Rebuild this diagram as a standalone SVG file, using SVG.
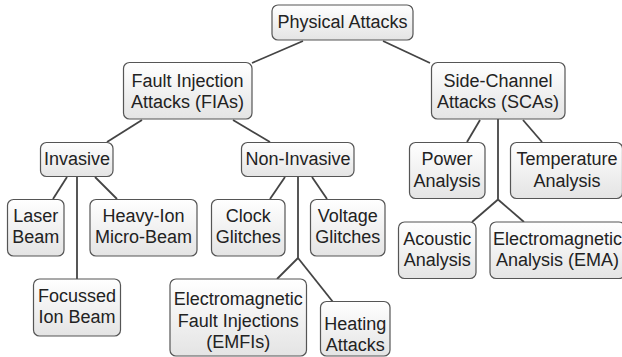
<svg xmlns="http://www.w3.org/2000/svg" width="622" height="357" viewBox="0 0 622 357">
<defs>
<linearGradient id="g" x1="0" y1="0" x2="0" y2="1">
<stop offset="0" stop-color="#ffffff"/>
<stop offset="1" stop-color="#e4e4e4"/>
</linearGradient>
<style>
.n rect{fill:url(#g);stroke:#555;stroke-width:1.2}
.n text{font-family:"Liberation Sans",Arial,sans-serif;font-size:18px;fill:#222;text-anchor:middle}
#edges line{stroke:#444;stroke-width:1.8;stroke-linecap:butt}
</style>
</defs>
<rect width="622" height="357" fill="#ffffff"/>
<g id="edges">
<line x1="303" y1="41" x2="252" y2="63"/>
<line x1="383" y1="41" x2="430" y2="63"/>
<line x1="142" y1="120" x2="107" y2="142"/>
<line x1="233" y1="120" x2="270" y2="142"/>
<line x1="480" y1="120" x2="467" y2="142"/>
<line x1="523" y1="120" x2="542" y2="142"/>
<line x1="498" y1="119" x2="498" y2="199.5"/>
<line x1="498" y1="199.5" x2="472" y2="222"/>
<line x1="498" y1="199.5" x2="524" y2="222"/>
<line x1="67" y1="177" x2="53" y2="199"/>
<line x1="95" y1="177" x2="117" y2="199"/>
<line x1="77" y1="177" x2="77" y2="279"/>
<line x1="285" y1="177" x2="270" y2="199"/>
<line x1="312" y1="177" x2="327" y2="199"/>
<line x1="298" y1="177" x2="298" y2="258"/>
<line x1="298" y1="258" x2="277" y2="279"/>
<line x1="298" y1="258" x2="333" y2="302"/>
</g>
<g id="physical" class="n"><rect x="272" y="5" width="141" height="35" rx="6"/><text x="342.5" y="27.5">Physical Attacks</text></g>
<g id="fia" class="n"><rect x="123.5" y="62.5" width="128.5" height="56.5" rx="6"/><text x="187.5" y="86.5">Fault Injection</text><text x="187.5" y="108.3">Attacks (FIAs)</text></g>
<g id="sca" class="n"><rect x="431.5" y="62.5" width="133.5" height="56.5" rx="6"/><text x="498" y="86.5">Side-Channel</text><text x="498" y="108.3">Attacks (SCAs)</text></g>
<g id="invasive" class="n"><rect x="40.5" y="142.5" width="72.5" height="34" rx="6"/><text x="77" y="164.5">Invasive</text></g>
<g id="noninvasive" class="n"><rect x="241.5" y="142.5" width="112.5" height="34" rx="6"/><text x="298" y="164.5">Non-Invasive</text></g>
<g id="power" class="n"><rect x="409.5" y="142.5" width="75.5" height="56" rx="6"/><text x="447" y="165.3">Power</text><text x="447" y="186.8">Analysis</text></g>
<g id="temperature" class="n"><rect x="510.5" y="142.5" width="112" height="56" rx="6"/><text x="567" y="165.3">Temperature</text><text x="567" y="186.8">Analysis</text></g>
<g id="laser" class="n"><rect x="7.5" y="199.5" width="56.5" height="56.5" rx="6"/><text x="35.7" y="221.5">Laser</text><text x="35.7" y="243.3">Beam</text></g>
<g id="heavyion" class="n"><rect x="90" y="199.5" width="107" height="56.5" rx="6"/><text x="143.5" y="221.5">Heavy-Ion</text><text x="143.5" y="243.3">Micro-Beam</text></g>
<g id="clock" class="n"><rect x="211.5" y="199.5" width="73.5" height="56.5" rx="6"/><text x="248.3" y="221.5">Clock</text><text x="248.3" y="243.3">Glitches</text></g>
<g id="voltage" class="n"><rect x="310.5" y="199.5" width="74.5" height="56.5" rx="6"/><text x="347.8" y="221.5">Voltage</text><text x="347.8" y="243.3">Glitches</text></g>
<g id="acoustic" class="n"><rect x="398.5" y="222" width="77.5" height="56.5" rx="6"/><text x="437.2" y="244.8">Acoustic</text><text x="437.2" y="266.3">Analysis</text></g>
<g id="ema" class="n"><rect x="490" y="222" width="135" height="56.5" rx="6"/><text x="557.5" y="244.8">Electromagnetic</text><text x="557.5" y="266.3">Analysis (EMA)</text></g>
<g id="focussed" class="n"><rect x="33.5" y="279" width="87" height="57" rx="6"/><text x="77" y="301.7">Focussed</text><text x="77" y="322.7">Ion Beam</text></g>
<g id="emfi" class="n"><rect x="170" y="279" width="136.5" height="77" rx="6"/><text x="238.3" y="305">Electromagnetic</text><text x="238.3" y="326.5">Fault Injections</text><text x="238.3" y="347.5">(EMFIs)</text></g>
<g id="heating" class="n"><rect x="320.5" y="301.5" width="69.5" height="54.5" rx="6"/><text x="355.3" y="329.5">Heating</text><text x="355.3" y="350.5">Attacks</text></g>
</svg>
